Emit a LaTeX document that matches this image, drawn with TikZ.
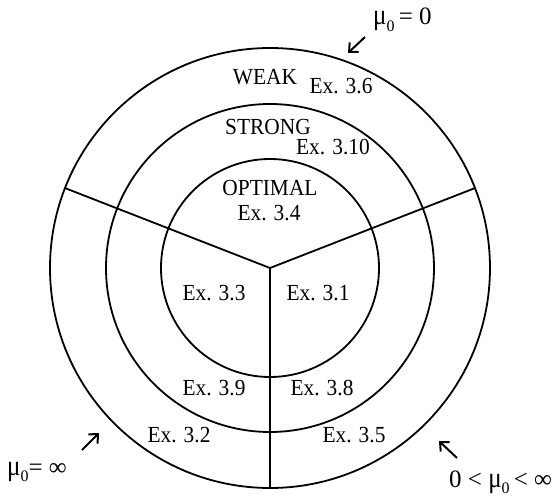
\documentclass[tikz,border=0pt]{standalone}
\usepackage{fontspec}
\setmainfont{Liberation Serif}
\newfontfamily\lblfont[FakeStretch=0.93]{Liberation Serif}
\usetikzlibrary{arrows.meta, positioning}
\newcommand{\muzero}{\scalebox{1}[1.15]{μ}\raisebox{-0.55ex}{\fontsize{16}{16}\selectfont 0}}
\tikzset{
  ring/.style={draw=black, line width=1.8pt},
  spoke/.style={draw=black, line width=1.8pt},
  lbl/.style={font=\lblfont\fontsize{23}{27}\selectfont, inner sep=1pt},
  mlbl/.style={font=\fontsize{25}{28}\selectfont, inner sep=0pt, anchor=base west},
  marr/.style={-{Straight Barb[length=7pt, width=13pt, line width=2pt]}, line width=2pt},
}
\begin{document}
\begin{tikzpicture}[x=1pt, y=1pt]
    \useasboundingbox (-270,-230) rectangle (290,268);

    % rings and spokes
    \coordinate (c) at (0,0);
    \draw[ring] (c) circle (109);
    \draw[ring] (c) circle (164);
    \draw[ring] (c) circle (220);
    \draw[spoke] (c) -- (21.3:220);
    \draw[spoke] (c) -- (158.7:220);
    \draw[spoke] (c) -- (270:220);

    % region labels
    \node[lbl] (weak)   at (-5,191)   {WEAK};
    \node[lbl] (ex36)   at (71,182)   {Ex. 3.6};
    \node[lbl] (strong) at (-2,141)   {STRONG};
    \node[lbl] (ex310)  at (63,121)   {Ex. 3.10};
    \node[lbl] (optim)  at (0,80)     {OPTIMAL};
    \node[lbl] (ex34)   at (-1,55)    {Ex. 3.4};
    \node[lbl] (ex33)   at (-56,-25)  {Ex. 3.3};
    \node[lbl] (ex31)   at (48,-25)   {Ex. 3.1};
    \node[lbl] (ex39)   at (-56,-120) {Ex. 3.9};
    \node[lbl] (ex38)   at (52,-120)  {Ex. 3.8};
    \node[lbl] (ex32)   at (-91,-167) {Ex. 3.2};
    \node[lbl] (ex35)   at (84,-167)  {Ex. 3.5};

    % mu labels
    \node[mlbl] (mzero) at (103,243)   {\muzero\,= 0};
    \node[mlbl] (minf)  at (-263,-207) {\muzero= ∞};
    \node[mlbl] (mmid)  at (179,-219)  {0 < \muzero\,< ∞};

    \coordinate (zs) at (95,231);   \coordinate (zt) at (78,215);
    \coordinate (is) at (-188,-182); \coordinate (it) at (-171,-165);
    \coordinate (ms) at (187,-190); \coordinate (mt) at (169,-173);
    \draw[marr] (zs) -- (zt);
    \draw[marr] (is) -- (it);
    \draw[marr] (ms) -- (mt);
\end{tikzpicture}
\end{document}
